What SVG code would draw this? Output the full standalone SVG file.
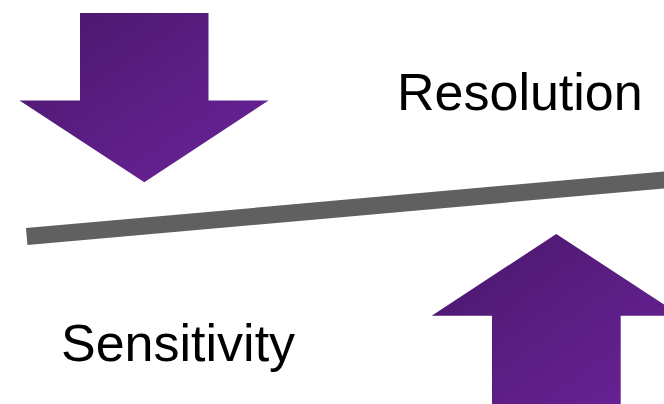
<svg xmlns="http://www.w3.org/2000/svg" width="664" height="404" viewBox="0 0 664 404">
  <defs>
    <linearGradient id="purple" x1="0" y1="0" x2="1" y2="1">
      <stop offset="0" stop-color="#4A176B"/>
      <stop offset="1" stop-color="#6B249B"/>
    </linearGradient>
    <style>
      .arrow { fill: url(#purple); }
      .label { font-family: "Liberation Sans", Arial, sans-serif; font-size: 52px; fill: #000000; }
      .bar { stroke: #606060; stroke-width: 17; stroke-linecap: butt; fill: none; }
    </style>
  </defs>
  <rect width="664" height="404" fill="#ffffff"/>

  <!-- tilted balance bar -->
  <g id="connectors">
    <line class="bar" x1="26.7" y1="236.5" x2="690" y2="177.7"/>
  </g>

  <!-- downward arrow pressing on resolution side -->
  <g id="arrow-down">
    <polygon class="arrow" points="80,13 208.5,13 208.5,100.5 268.5,100.5 144.3,182.3 19.5,100.5 80,100.5"/>
  </g>

  <!-- upward arrow on sensitivity side -->
  <g id="arrow-up">
    <polygon class="arrow" points="556.3,234 681,315.7 620.7,315.7 620.7,420 492,420 492,315.7 431.7,315.7"/>
  </g>

  <g id="resolution">
    <text class="label" x="397" y="109.5">Resolution</text>
  </g>

  <g id="sensitivity">
    <text class="label" x="61" y="361">Sensitivity</text>
  </g>
</svg>
